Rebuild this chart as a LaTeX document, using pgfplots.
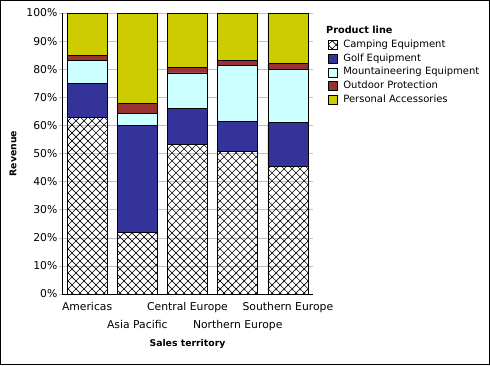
\documentclass[border=0pt]{standalone}
\usepackage{pgfplots}
\pgfplotsset{compat=1.18}
\usepackage{pgfplotstable}
\usetikzlibrary{patterns.meta}
\usepackage{fontspec}
\setmainfont{DejaVu Sans}
\definecolor{golf}{HTML}{333399}
\definecolor{mount}{HTML}{CCFFFF}
\definecolor{outdoor}{HTML}{993333}
\definecolor{personal}{HTML}{CCCC00}
\definecolor{gridc}{HTML}{C0C0C0}
\pgfplotstableread{
x camp golf mount outdoor personal
0 62.8 12.2 8.0 1.9 15.1
1 21.9 38.1 4.3 3.5 32.2
2 53.2 12.8 12.7 2.0 19.3
3 50.6 10.8 19.8 2.0 16.8
4 45.5 15.6 18.8 2.2 17.9
}\data
\begin{document}
\begin{tikzpicture}[font=\fontsize{10}{12}\selectfont]
\useasboundingbox (0,0) rectangle (490pt,365pt);
\begin{axis}[
  at={(62pt,71pt)}, anchor=south west,
  scale only axis, width=251pt, height=281pt,
  ybar stacked, bar width=40pt,
  xmin=-0.5, xmax=4.5, ymin=0, ymax=100,
  axis x line*=bottom, axis y line*=left,
  axis line style={black, line width=0.6pt},
  tick label style={font=\fontsize{10.8}{13}\selectfont},
  xtick={0,2,4},
  xticklabels={Americas,Central Europe,Southern Europe},
  xticklabel style={yshift=-2pt},
  extra x ticks={1,3},
  extra x tick labels={Asia Pacific,Northern Europe},
  extra x tick style={xticklabel style={yshift=-18pt}},
  x tick style={draw=none},
  ytick={0,10,...,100},
  yticklabels={0\%,10\%,20\%,30\%,40\%,50\%,60\%,70\%,80\%,90\%,100\%},
  y tick style={gridc, line width=0.6pt},
  tick align=outside, major tick length=3pt,
  yticklabel style={inner xsep=1.5pt},
  ymajorgrids, grid style={gridc, line width=0.6pt},
  xlabel={\fontsize{9.3}{11}\selectfont\bfseries Sales territory},
  ylabel={\fontsize{9.3}{11}\selectfont\bfseries Revenue},
  xlabel style={at={(axis description cs:0.5,-0.178)}, anchor=center},
  ylabel style={at={(axis description cs:-0.195,0.5)}, anchor=center},
  legend cell align=left,
  legend image code/.code={\draw[#1, line width=0.6pt] (0pt,-4.5pt) rectangle (9pt,4.5pt);},
  legend style={draw=none, fill=none, inner sep=0pt, column sep=3pt,
    at={(axis description cs:1.06,0.91)}, anchor=north west,
    nodes={text height=7.3pt, text depth=2.3pt, inner ysep=2pt, inner xsep=2.5pt},
    font=\fontsize{10}{12}\selectfont},
  every axis plot/.append style={draw=black, line width=0.7pt},
]
\addplot[pattern={Hatch[angle=45,distance=5.66pt,line width=0.6pt]}, pattern color=black] table[x=x,y=camp]{\data};
\addlegendentry{Camping Equipment}
\addplot[fill=golf] table[x=x,y=golf]{\data};
\addlegendentry{Golf Equipment}
\addplot[fill=mount] table[x=x,y=mount]{\data};
\addlegendentry{Mountaineering Equipment}
\addplot[fill=outdoor] table[x=x,y=outdoor]{\data};
\addlegendentry{Outdoor Protection}
\addplot[fill=personal] table[x=x,y=personal]{\data};
\addlegendentry{Personal Accessories}
\end{axis}
\node[anchor=west, inner sep=0pt, font=\fontsize{9.7}{11}\selectfont\bfseries] at (326pt,335.5pt) {Product line};
\draw[black, line width=1pt] (0.5pt,0.5pt) rectangle (489.5pt,364.5pt);
\end{tikzpicture}
\end{document}
